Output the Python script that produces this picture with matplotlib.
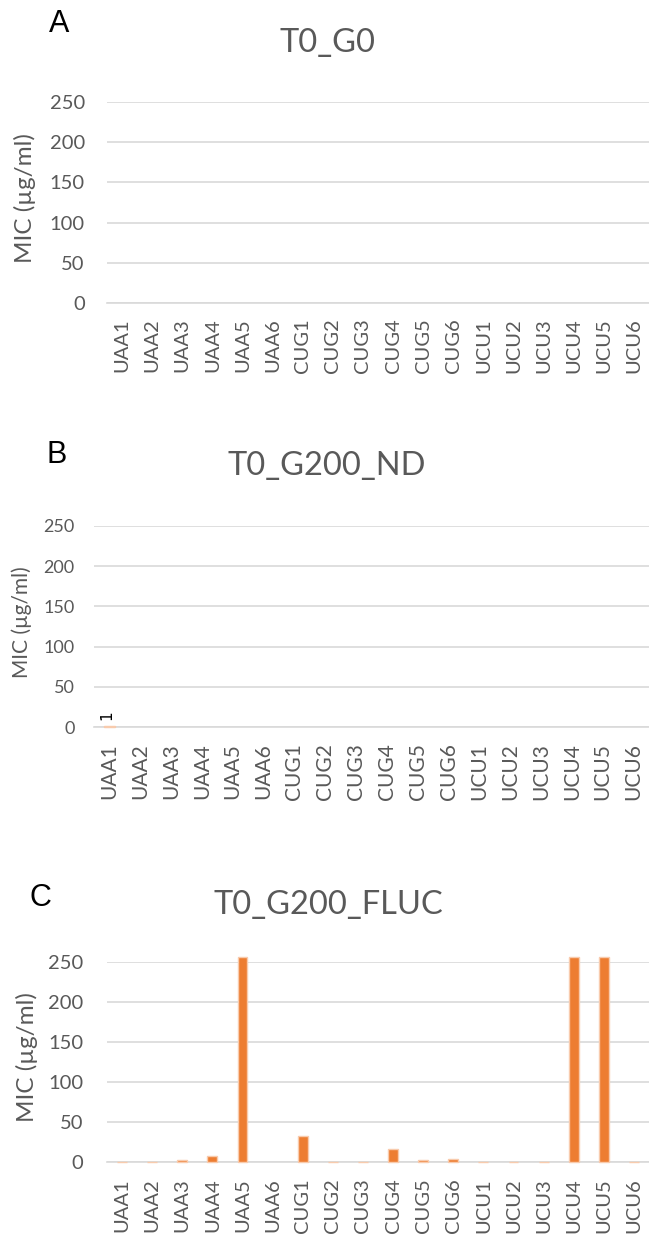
import matplotlib
matplotlib.use("Agg")
from matplotlib import pyplot as plt

strains = ['UAA1', 'UAA2', 'UAA3', 'UAA4', 'UAA5', 'UAA6',
           'CUG1', 'CUG2', 'CUG3', 'CUG4', 'CUG5', 'CUG6',
           'UCU1', 'UCU2', 'UCU3', 'UCU4', 'UCU5', 'UCU6']
yticks = [0, 50, 100, 150, 200, 250]

mic_g0 = [0] * 18
mic_nd = [1] + [0] * 17
mic_fluc = [0.5, 0.5, 2, 8, 256, 0, 32, 0.5, 0.5, 16, 2, 4,
            0.5, 0.5, 0.5, 256, 256, 0.5]

panels = [
    ('A', 'T0_G0', mic_g0, False),
    ('B', 'T0_G200_ND', mic_nd, True),
    ('C', 'T0_G200_FLUC', mic_fluc, False),
]
# per panel layout (pixels / points)
boxes = [(107, 102, 303), (94, 526, 727), (107, 962, 1162)]   # left, top, bottom
letters = [(59, 24), (57, 455), (40, 898)]
titles = [(328, 43), (327, 466), (328, 905)]
ylabels = [(25, 198, 17.5), (22, 622, 15), (27, 1057, 17.5)]
ytick_fs = [14.5, 13, 14.5]
xtick_fs = [14.5, 15, 14.5]
ypad = [16, 14, 17]
xpad = [11, 11.5, 11.5]

W, H = 649, 1234
fig = plt.figure(figsize=(W / 100, H / 100), dpi=100)
orange = '#ED7D31'
edge = '#F8CBAD'
grey = '#595959'

for i, (letter, title, values, show_label) in enumerate(panels):
    left, top, bottom = boxes[i]
    ax = fig.add_axes([left / W, 1 - bottom / H, (W - left) / W, (bottom - top) / H])
    x = range(len(strains))
    edges = [edge if v > 0 else 'none' for v in values]
    ax.bar(x, values, width=0.33, color=orange, edgecolor=edges, linewidth=1.0,
           zorder=3, clip_on=False)
    ax.set_xlim(-0.5, len(strains) - 0.5)
    ax.set_ylim(0, 250)
    ax.set_yticks(yticks)
    ax.set_yticklabels([str(t) for t in yticks], fontsize=ytick_fs[i], color=grey, family='Lato')
    ax.set_xticks(list(x))
    ax.set_xticklabels(strains, rotation=90, fontsize=xtick_fs[i], color=grey, family='Lato')
    ax.tick_params(axis='y', length=0, pad=ypad[i])
    ax.tick_params(axis='x', length=0, pad=xpad[i])
    ax.grid(axis='y', color='#D9D9D9', linewidth=1.2, zorder=0)
    for s in ['top', 'right', 'left']:
        ax.spines[s].set_visible(False)
    ax.spines['bottom'].set_color('#D9D9D9')
    ax.spines['bottom'].set_linewidth(1.2)
    if show_label:
        ax.annotate(str(values[0]), (0, values[0]), xytext=(-2, 8), textcoords='offset points',
                    rotation=90, ha='center', va='center', fontsize=11, color='black')
    fig.text(letters[i][0] / W, 1 - letters[i][1] / H, letter, fontsize=22,
             family='Liberation Sans', ha='center', va='center')
    fig.text(titles[i][0] / W, 1 - titles[i][1] / H, title, fontsize=23.5, color=grey,
             family='Lato', ha='center', va='center')
    fig.text(ylabels[i][0] / W, 1 - ylabels[i][1] / H, 'MIC (µg/ml)', fontsize=ylabels[i][2],
             color=grey, family='Lato', rotation=90, ha='center', va='center')

fig.savefig('out.png', dpi=100)
